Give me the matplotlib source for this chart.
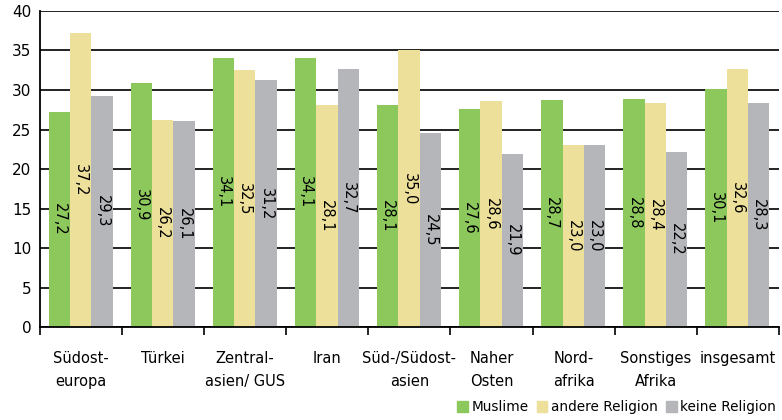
import numpy as np
import matplotlib.pyplot as plt
from matplotlib.patches import Patch

# data
regionen = ['Südost-\neuropa', 'Türkei', 'Zentral-\nasien/ GUS', 'Iran', 'Süd-/Südost-\nasien',
            'Naher\nOsten', 'Nord-\nafrika', 'Sonstiges\nAfrika', 'insgesamt']
muslime = [27.2, 30.9, 34.1, 34.1, 28.1, 27.6, 28.7, 28.8, 30.1]
andere = [37.2, 26.2, 32.5, 28.1, 35.0, 28.6, 23.0, 28.4, 32.6]
keine = [29.3, 26.1, 31.2, 32.7, 24.5, 21.9, 23.0, 22.2, 28.3]
serien = ['Muslime', 'andere Religion', 'keine Religion']
farben = ['#8dc85d', '#ede09a', '#b5b6ba']

plt.rcParams['font.family'] = ['DejaVu Sans']

fig = plt.figure(figsize=(7.82, 4.2), dpi=100)
ax = fig.add_axes([0.051, 0.221, 0.945, 0.753])

x = np.arange(len(regionen))
w = 0.26
for i, (werte, farbe) in enumerate(zip([muslime, andere, keine], farben)):
    pos = x + (i - 1) * w - 0.005
    ax.bar(pos, werte, width=w, color=farbe, zorder=2)
    for p, v in zip(pos, werte):
        ax.text(p, v / 2, f'{v:.1f}'.replace('.', ','), rotation=270,
                ha='center', va='center', fontsize=10.5, zorder=3)

ax.set_xlim(-0.5, len(regionen) - 0.5)
ax.set_ylim(0, 40)
ax.set_yticks(range(0, 41, 5))
ax.yaxis.grid(True, color='#222222', linewidth=1.4, zorder=0)
ax.set_axisbelow(True)

ax.set_xticks(x)
ax.set_xticklabels(regionen, fontsize=10.5, linespacing=1.65)
ax.tick_params(axis='x', which='major', length=0, pad=17)
ax.set_xticks(np.arange(-0.5, len(regionen) - 0.4, 1.0), minor=True)
ax.tick_params(axis='x', which='minor', length=6, width=1.2, direction='out')
ax.tick_params(axis='y', length=0, labelsize=11, pad=6)

for s in ['top', 'right']:
    ax.spines[s].set_visible(False)
ax.spines['left'].set_linewidth(1.3)
ax.spines['bottom'].set_linewidth(1.3)

handles = [Patch(color=c, label=s) for c, s in zip(farben, serien)]
fig.legend(handles=handles, loc='lower right', bbox_to_anchor=(1.008, -0.015), ncol=3,
           frameon=False, fontsize=9.8, handlelength=0.8, handleheight=0.8,
           handletextpad=0.25, columnspacing=0.6)

fig.savefig('out.png', dpi=100)
